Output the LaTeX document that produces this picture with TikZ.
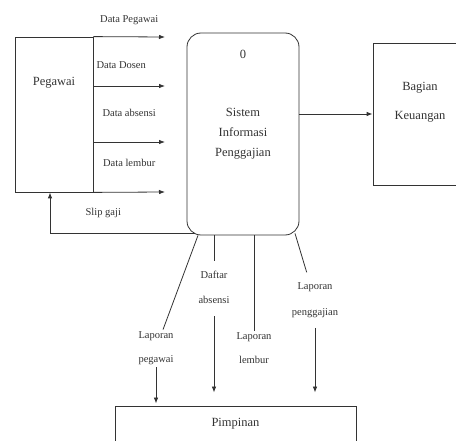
\documentclass[tikz,border=0pt]{standalone}
\usepackage{fontspec}
\setmainfont{Liberation Serif}
\usetikzlibrary{arrows.meta}

\begin{document}
\begin{tikzpicture}[x=1pt, y=-1pt, >={Latex[length=6pt,width=4.5pt]}, line width=0.8pt, color=black!80,
    box/.style={draw, rectangle, inner sep=0pt},
    proses/.style={draw, rectangle, rounded corners=14pt, inner sep=0pt},
    judul/.style={font=\fontsize{12.5}{20}\selectfont, align=center},
    aliran/.style={font=\fontsize{10.5}{24}\selectfont, align=center, inner sep=2pt}]
        \clip (0,0) rectangle (456,441);

        \node[box, minimum width=78pt, minimum height=155pt, label={[judul, anchor=center, yshift=-46pt]north:Pegawai}] (pegawai) at (54,114.5) {};
        \node[proses, judul, minimum width=112pt, minimum height=202pt, label={[judul, anchor=center, yshift=-22pt]north:0}] (proses) at (243,134) {Sistem\\Informasi\\Penggajian};
        \node[box, minimum width=89pt, minimum height=142pt, label={[judul, font=\fontsize{12.5}{29}\selectfont, anchor=center, xshift=2.5pt, yshift=11.5pt]center:Bagian\\Keuangan}] (bagian) at (417.5,114) {};
        \node[box, minimum width=241pt, minimum height=44pt, label={[judul, anchor=center, yshift=4pt]center:Pimpinan}] (pimpinan) at (235.5,428) {};

        \node[aliran] (lappeg) at (156,348.5) {Laporan\\pegawai};
        \node[aliran, font=\fontsize{10.5}{25}\selectfont] (daftar) at (214,287.5) {Daftar\\absensi};
        \node[aliran] (laplem) at (254,348.5) {Laporan\\lembur};
        \node[aliran, font=\fontsize{10.5}{26}\selectfont] (lapgaji) at (315,300) {Laporan\\penggajian};

        \coordinate (dPeg) at (165,37);
        \coordinate (dDos) at (165,86);
        \coordinate (dAbs) at (165,142);
        \coordinate (dLem) at (165,192);

        \draw[->] (pegawai.north east) -- node[aliran, yshift=17pt] (lblPeg) {Data Pegawai} (dPeg);
        \draw[->] (pegawai.east |- dDos) -- node[aliran, xshift=-8pt, yshift=21pt] (lblDos) {Data Dosen} (dDos);
        \draw[->] (pegawai.east |- dAbs) -- node[aliran, yshift=29pt] (lblAbs) {Data absensi} (dAbs);
        \draw[->] (pegawai.south east) -- node[aliran, yshift=29pt] (lblLem) {Data lembur} (dLem);
        \draw[->] ([xshift=8pt, yshift=2pt]proses.south west) -| node[aliran, pos=0.25, xshift=-19pt, yshift=20pt] (lblSlip) {Slip gaji} ([xshift=-4pt]pegawai.south);
        \draw[->] ([yshift=20pt]proses.east) -- (bagian.west);

        \draw ([xshift=-45pt]proses.south) -- (lappeg);
        \draw[->, shorten >=2pt] (lappeg) -- (lappeg |- pimpinan.north);
        \draw[shorten >=8pt] ([xshift=-29pt]proses.south) -- (daftar);
        \draw[->, shorten <=10pt, shorten >=13pt] (daftar) -- (daftar |- pimpinan.north);
        \draw ([xshift=11pt]proses.south) -- (laplem);
        \draw[shorten >=8pt] ([xshift=52pt, yshift=2pt]proses.south) -- (lapgaji);
        \draw[->, shorten <=8pt, shorten >=13pt] (lapgaji) -- (lapgaji |- pimpinan.north);
    \end{tikzpicture}
\end{document}
